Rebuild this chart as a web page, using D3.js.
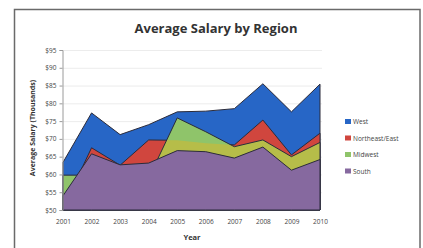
<!-- Average salary by region, overlapping area chart -->
<html>
<head>
  <meta charset="utf-8">
  <title>Average Salary by Region</title>
  <style>
    body{
      margin: 0;
      background: #fff;
      font-family: "Open Sans", "DejaVu Sans", sans-serif;
    }
  </style>
  <script src="https://d3js.org/d3.v7.min.js"></script>
</head>
<body>
  <div id="container"></div>
  <script>
    //*******DATA*******
    var years = [2001, 2002, 2003, 2004, 2005, 2006, 2007, 2008, 2009, 2010];
    var west      = [63.4, 77.3, 71.2, 74.0, 77.6, 77.8, 78.5, 85.5, 77.6, 85.4];
    var northeast = [50.5, 67.5, 62.6, 69.7, 69.6, 68.8, 68.3, 75.3, 65.5, 71.6];
    var midwest   = [59.8, 59.8, 59.0, 59.0, 75.9, 72.0, 67.8, 69.7, 65.0, 69.0];
    var south     = [54.0, 65.8, 62.7, 63.2, 66.7, 66.4, 64.6, 67.7, 61.2, 64.2];
    var seriesNames = ["West", "Northeast/East", "Midwest", "South"];
    var yTicks = [50, 55, 60, 65, 70, 75, 80, 85, 90, 95];

    //*******CONSTANTS*******
    const width = 423,
          height = 248;
    const colors = ["#2766c6", "#d0463e", "#8fc46a", "#86699f"];
    const olive = "#b6bd49";

    var svg = d3.select("#container")
      .append("svg")
      .attr("width", width)
      .attr("height", height)
      .style("display", "block");

    // chart frame
    svg.append("rect")
      .attr("x", 14.5)
      .attr("y", 9.5)
      .attr("width", 405.5)
      .attr("height", 245)
      .attr("fill", "#fff")
      .attr("stroke", "#6a6a6a")
      .attr("stroke-width", 1.5);

    svg.append("text")
      .attr("x", 216)
      .attr("y", 33)
      .attr("text-anchor", "middle")
      .attr("font-size", 13)
      .attr("font-weight", "bold")
      .attr("fill", "#333")
      .text("Average Salary by Region");

    var x = d3.scalePoint().domain(years).range([63, 320]);
    var y = d3.scaleLinear().domain([50, 95]).range([210, 50]);

    // gridlines
    svg.selectAll(".grid")
      .data(yTicks.slice(1))
      .enter()
      .append("line")
      .attr("x1", 63)
      .attr("x2", 322)
      .attr("y1", function(d){return y(d) + 0.5;})
      .attr("y2", function(d){return y(d) + 0.5;})
      .attr("stroke", "#ececec");

    var area = d3.area()
      .x(function(d, i){return x(years[i]);})
      .y0(y(50))
      .y1(function(d){return y(d);});

    var all = [west, northeast, midwest, south];

    // west + northeast
    [0, 1].forEach(function(k){
      svg.append("path")
        .attr("d", area(all[k]))
        .attr("fill", colors[k])
        .attr("stroke", "#2b2b3a")
        .attr("stroke-width", 1);
    });

    // midwest fill, then the part over northeast in olive
    svg.append("clipPath")
      .attr("id", "neClip")
      .append("path")
      .attr("d", area(northeast));

    svg.append("path")
      .attr("d", area(midwest))
      .attr("fill", colors[2]);

    svg.append("path")
      .attr("d", area(midwest))
      .attr("fill", olive)
      .attr("clip-path", "url(#neClip)");

    svg.append("path")
      .attr("d", area(midwest))
      .attr("fill", "none")
      .attr("stroke", "#2b2b3a")
      .attr("stroke-width", 1);

    svg.append("path")
      .attr("d", area(south))
      .attr("fill", colors[3])
      .attr("stroke", "#2b2b3a")
      .attr("stroke-width", 1);

    // axes
    var yAxis = d3.axisLeft(y)
      .tickValues(yTicks)
      .tickSize(3)
      .tickFormat(function(d){return "$" + d;});
    var gy = svg.append("g")
      .attr("transform", "translate(62.5,0)")
      .call(yAxis);
    gy.select(".domain").attr("stroke", "#9a9a9a");
    gy.selectAll(".tick line").attr("stroke", "#9a9a9a");
    gy.selectAll("text")
      .attr("font-size", 6.5)
      .attr("fill", "#444")
      .attr("font-family", "Open Sans, sans-serif");

    var xAxis = d3.axisBottom(x).tickSize(0).tickPadding(9);
    var gx = svg.append("g")
      .attr("transform", "translate(0," + y(50) + ")")
      .call(xAxis);
    gx.select(".domain").remove();
    gx.selectAll("text")
      .attr("font-size", 6.5)
      .attr("fill", "#444")
      .attr("font-family", "Open Sans, sans-serif");

    svg.append("text")
      .attr("x", 192)
      .attr("y", 240)
      .attr("text-anchor", "middle")
      .attr("font-size", 7.5)
      .attr("font-weight", "bold")
      .attr("fill", "#333")
      .text("Year");

    svg.append("text")
      .attr("transform", "translate(35,128) rotate(-90)")
      .attr("text-anchor", "middle")
      .attr("font-size", 7)
      .attr("font-weight", "bold")
      .attr("fill", "#333")
      .text("Average Salary (Thousands)");

    // legend
    var legend = svg.selectAll(".legend")
      .data(seriesNames)
      .enter()
      .append("g")
      .attr("transform", function(d, i){return "translate(345," + (122 + i * 16.5) + ")";});
    legend.append("rect")
      .attr("x", 0)
      .attr("y", -3)
      .attr("width", 6)
      .attr("height", 5)
      .attr("fill", function(d, i){return colors[i];});
    legend.append("text")
      .attr("x", 8)
      .attr("y", 2)
      .attr("font-size", 6.5)
      .attr("fill", "#444")
      .text(function(d){return d;});
  </script>
</body>
</html>
